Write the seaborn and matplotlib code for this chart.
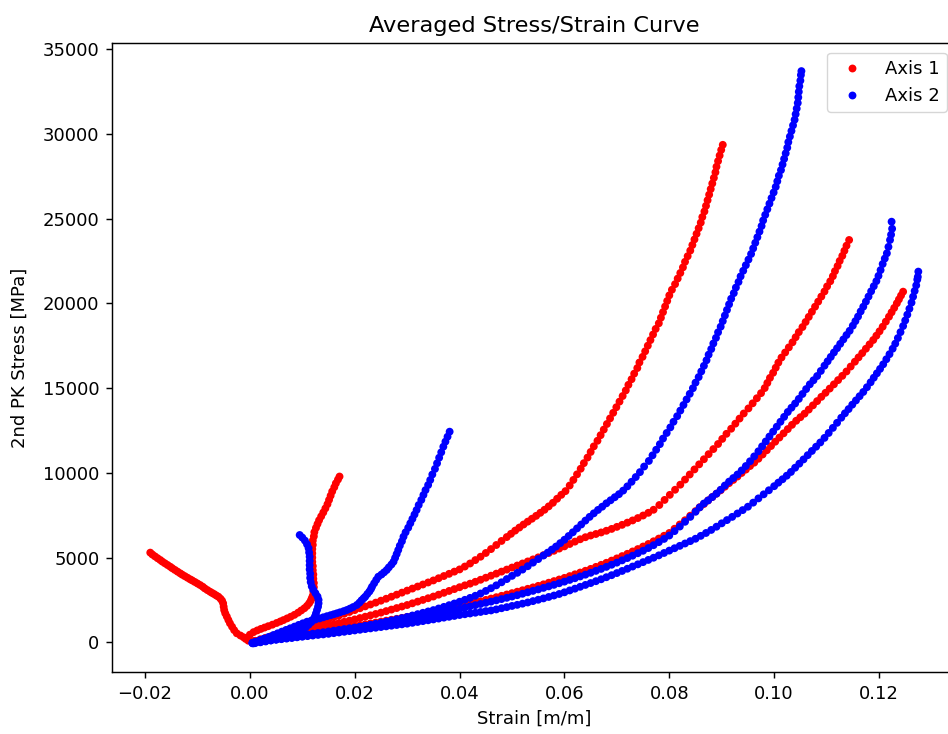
import numpy as np
import pandas as pd
import matplotlib
matplotlib.use("Agg")
import matplotlib.pyplot as plt
import seaborn as sns

# Averaged stress/strain samples, (strain [m/m], 2nd PK stress [MPa]) per test run.
# Axis 1 runs
axis1_run1 = [(-0.0003, 94), (-0.0008, 200), (-0.0012, 295), (-0.0018, 400), (-0.0025, 531), (-0.0030, 720),
              (-0.0034, 920), (-0.0038, 1120), (-0.0041, 1316), (-0.0044, 1520), (-0.0047, 1711), (-0.0049, 1900),
              (-0.0050, 2100), (-0.0051, 2300), (-0.0053, 2450), (-0.0056, 2570), (-0.0060, 2690), (-0.0064, 2760),
              (-0.0068, 2840), (-0.0072, 2910), (-0.0076, 2985), (-0.0081, 3080), (-0.0086, 3180), (-0.0090, 3280),
              (-0.0095, 3380), (-0.0100, 3470), (-0.0105, 3560), (-0.0110, 3650), (-0.0114, 3717), (-0.0119, 3810),
              (-0.0124, 3900), (-0.0129, 3990), (-0.0133, 4071), (-0.0138, 4170), (-0.0143, 4270), (-0.0148, 4370),
              (-0.0152, 4460), (-0.0157, 4560), (-0.0162, 4660), (-0.0167, 4760), (-0.0171, 4856), (-0.0176, 4960),
              (-0.0181, 5070), (-0.0186, 5180), (-0.0190, 5290)]

axis1_run2 = [(0.0000, 450), (0.0007, 600), (0.0014, 700), (0.0021, 790), (0.0028, 870), (0.0035, 950),
              (0.0043, 1040), (0.0051, 1140), (0.0058, 1230), (0.0064, 1310), (0.0071, 1410), (0.0078, 1510),
              (0.0085, 1620), (0.0092, 1750), (0.0098, 1880), (0.0104, 2010), (0.0109, 2150), (0.0113, 2300),
              (0.0116, 2450), (0.0118, 2600), (0.0120, 2750), (0.0121, 3000), (0.0122, 3250), (0.0122, 3500),
              (0.0121, 3750), (0.0121, 4000), (0.0120, 4250), (0.0120, 4500), (0.0119, 4750), (0.0119, 5000),
              (0.0119, 5250), (0.0119, 5500), (0.0120, 5750), (0.0120, 6000), (0.0122, 6250), (0.0123, 6500),
              (0.0126, 6750), (0.0129, 6980), (0.0132, 7200), (0.0136, 7430), (0.0140, 7660), (0.0144, 7900),
              (0.0148, 8150), (0.0151, 8400), (0.0154, 8650), (0.0157, 8900), (0.0161, 9150), (0.0164, 9380),
              (0.0168, 9600), (0.0171, 9780)]

axis1_run3 = [(0.0005, 40), (0.001, 90), (0.002, 180), (0.003, 265), (0.004, 355), (0.005, 445), (0.006, 535),
              (0.007, 625), (0.008, 715), (0.009, 805), (0.010, 900), (0.011, 990), (0.012, 1085), (0.013, 1180),
              (0.014, 1280), (0.015, 1380), (0.016, 1480), (0.017, 1580), (0.018, 1685), (0.019, 1790),
              (0.020, 1900), (0.021, 2010), (0.022, 2120), (0.023, 2230), (0.024, 2340), (0.025, 2455),
              (0.026, 2570), (0.027, 2690), (0.028, 2810), (0.029, 2930), (0.030, 3050), (0.031, 3170),
              (0.032, 3290), (0.033, 3410), (0.034, 3530), (0.035, 3650), (0.036, 3780), (0.037, 3910),
              (0.038, 4040), (0.039, 4170), (0.040, 4300), (0.041, 4470), (0.042, 4650), (0.043, 4850),
              (0.044, 5050), (0.045, 5270), (0.046, 5500), (0.047, 5740), (0.048, 5980), (0.0490, 6210),
              (0.0498, 6400), (0.0506, 6590), (0.0514, 6770), (0.0522, 6950), (0.0530, 7120), (0.0538, 7290),
              (0.0546, 7460), (0.0554, 7640), (0.0562, 7820), (0.0570, 8020), (0.0578, 8230), (0.0586, 8470),
              (0.0594, 8700), (0.0602, 8920), (0.0610, 9250), (0.0617, 9580), (0.0624, 9910), (0.0631, 10240),
              (0.0637, 10570), (0.0644, 10900), (0.0650, 11230), (0.0656, 11560), (0.0663, 11890), (0.0669, 12220),
              (0.0675, 12550), (0.0681, 12880), (0.0687, 13210), (0.0693, 13540), (0.0699, 13870), (0.0705, 14200),
              (0.0711, 14530), (0.0717, 14860), (0.0722, 15190), (0.0728, 15520), (0.0733, 15850), (0.0739, 16180),
              (0.0743, 16510), (0.0749, 16840), (0.0754, 17170), (0.0759, 17500), (0.0764, 17830), (0.0769, 18160),
              (0.0774, 18490), (0.0780, 18820), (0.0784, 19150), (0.0788, 19480), (0.0792, 19810), (0.0796, 20140),
              (0.0800, 20470), (0.0805, 20800), (0.0811, 21130), (0.0816, 21460), (0.0821, 21790), (0.0826, 22120),
              (0.0830, 22450), (0.0835, 22780), (0.0840, 23110), (0.0844, 23440), (0.0848, 23770), (0.0852, 24100),
              (0.0856, 24430), (0.0860, 24760), (0.0863, 25090), (0.0867, 25420), (0.0870, 25750), (0.0873, 26080),
              (0.0876, 26410), (0.0879, 26740), (0.0882, 27070), (0.0885, 27400), (0.0888, 27730), (0.0890, 28060),
              (0.0893, 28390), (0.0896, 28720), (0.0899, 29050), (0.0902, 29350)]

axis1_run4 = [(0.0005, 40), (0.001, 70), (0.002, 135), (0.003, 200), (0.004, 265), (0.005, 330), (0.006, 395),
              (0.007, 455), (0.008, 520), (0.009, 585), (0.010, 650), (0.011, 720), (0.012, 790), (0.013, 860),
              (0.014, 930), (0.015, 1000), (0.016, 1070), (0.017, 1140), (0.018, 1210), (0.019, 1280),
              (0.020, 1350), (0.021, 1430), (0.022, 1510), (0.023, 1590), (0.024, 1670), (0.025, 1750),
              (0.026, 1840), (0.027, 1930), (0.028, 2020), (0.029, 2110), (0.030, 2200), (0.031, 2300),
              (0.032, 2400), (0.033, 2500), (0.034, 2600), (0.035, 2700), (0.036, 2810), (0.037, 2920),
              (0.038, 3030), (0.039, 3140), (0.040, 3250), (0.041, 3360), (0.042, 3460), (0.043, 3570),
              (0.044, 3690), (0.045, 3810), (0.046, 3930), (0.047, 4050), (0.048, 4170), (0.049, 4290),
              (0.050, 4410), (0.051, 4530), (0.052, 4650), (0.053, 4770), (0.054, 4890), (0.055, 5010),
              (0.056, 5140), (0.057, 5270), (0.058, 5400), (0.059, 5530), (0.060, 5660), (0.061, 5800),
              (0.062, 5940), (0.063, 6080), (0.064, 6200), (0.065, 6300), (0.066, 6390), (0.067, 6480),
              (0.068, 6580), (0.069, 6690), (0.070, 6810), (0.071, 6930), (0.072, 7060), (0.073, 7190),
              (0.074, 7330), (0.075, 7480), (0.076, 7640), (0.077, 7820), (0.0781, 8100), (0.0791, 8400),
              (0.0801, 8700), (0.0811, 9000), (0.0821, 9300), (0.0830, 9600), (0.0839, 9900), (0.0848, 10200),
              (0.0857, 10500), (0.0866, 10800), (0.0875, 11100), (0.0884, 11400), (0.0893, 11700), (0.0901, 12000),
              (0.0909, 12300), (0.0918, 12600), (0.0926, 12900), (0.0934, 13200), (0.0942, 13500), (0.0951, 13800),
              (0.0959, 14100), (0.0967, 14400), (0.0975, 14700), (0.0982, 15000), (0.0987, 15300), (0.0992, 15600),
              (0.0998, 15900), (0.1003, 16200), (0.1008, 16500), (0.1014, 16800), (0.1021, 17100), (0.1028, 17400),
              (0.1035, 17700), (0.1041, 18000), (0.1047, 18300), (0.1054, 18600), (0.1060, 18900), (0.1066, 19200),
              (0.1072, 19500), (0.1078, 19800), (0.1084, 20100), (0.1090, 20400), (0.1096, 20700), (0.1101, 21000),
              (0.1107, 21300), (0.1112, 21600), (0.1116, 21900), (0.1121, 22200), (0.1125, 22500), (0.1130, 22800),
              (0.1134, 23100), (0.1138, 23400), (0.1143, 23736)]

axis1_run5 = [(0.0005, 50), (0.001, 70), (0.002, 115), (0.003, 160), (0.004, 205), (0.005, 250), (0.006, 295),
              (0.007, 340), (0.008, 390), (0.009, 435), (0.010, 480), (0.011, 530), (0.012, 575), (0.013, 625),
              (0.014, 670), (0.015, 720), (0.016, 765), (0.017, 815), (0.018, 860), (0.019, 910), (0.020, 960),
              (0.021, 1010), (0.022, 1060), (0.023, 1115), (0.024, 1165), (0.025, 1220), (0.026, 1275),
              (0.027, 1330), (0.028, 1385), (0.029, 1440), (0.030, 1500), (0.031, 1560), (0.032, 1620),
              (0.033, 1680), (0.034, 1740), (0.035, 1800), (0.036, 1865), (0.037, 1930), (0.038, 1995),
              (0.039, 2060), (0.040, 2130), (0.041, 2200), (0.042, 2270), (0.043, 2345), (0.044, 2420),
              (0.045, 2500), (0.046, 2580), (0.047, 2660), (0.048, 2740), (0.049, 2820), (0.050, 2900),
              (0.051, 2985), (0.052, 3070), (0.053, 3155), (0.054, 3240), (0.055, 3330), (0.056, 3420),
              (0.057, 3515), (0.058, 3610), (0.059, 3705), (0.060, 3800), (0.061, 3905), (0.062, 4010),
              (0.063, 4115), (0.064, 4220), (0.065, 4330), (0.066, 4450), (0.067, 4570), (0.068, 4690),
              (0.069, 4820), (0.070, 4950), (0.071, 5085), (0.072, 5220), (0.073, 5360), (0.074, 5500),
              (0.075, 5650), (0.076, 5800), (0.077, 5960), (0.078, 6120), (0.079, 6285), (0.080, 6450),
              (0.081, 6700), (0.082, 6950), (0.083, 7200), (0.084, 7470), (0.085, 7740), (0.0858, 7970),
              (0.0866, 8160), (0.0874, 8370), (0.0882, 8570), (0.0890, 8770), (0.0898, 8970), (0.0906, 9180),
              (0.0914, 9390), (0.0922, 9580), (0.0930, 9780), (0.0938, 9990), (0.0946, 10190), (0.0954, 10400),
              (0.0962, 10600), (0.0970, 10830), (0.0978, 11080), (0.0986, 11330), (0.0994, 11580), (0.1002, 11835),
              (0.1010, 12080), (0.1018, 12330), (0.1026, 12580), (0.1034, 12830), (0.1042, 13070), (0.1050, 13280),
              (0.1058, 13490), (0.1066, 13730), (0.1074, 13980), (0.1082, 14230), (0.1090, 14480), (0.1098, 14720),
              (0.1106, 14970), (0.1114, 15220), (0.1122, 15470), (0.1130, 15720), (0.1138, 15980), (0.1146, 16270),
              (0.1154, 16556), (0.1161, 16810), (0.1168, 17060), (0.1175, 17320), (0.1182, 17580), (0.1189, 17836),
              (0.1195, 18090), (0.1201, 18350), (0.1207, 18620), (0.1213, 18920), (0.1219, 19210), (0.1224, 19470),
              (0.1229, 19730), (0.1234, 20001), (0.1238, 20230), (0.1242, 20460), (0.1246, 20686)]

# Axis 2 runs
axis2_run1 = [(0.0010, -50), (0.0020, 0), (0.0030, 50), (0.0040, 110), (0.0050, 180), (0.0060, 260),
              (0.0070, 350), (0.0079, 440), (0.0087, 540), (0.0094, 650), (0.0101, 770), (0.0107, 900),
              (0.0112, 1040), (0.0117, 1190), (0.0121, 1350), (0.0124, 1520), (0.0126, 1700), (0.0128, 1900),
              (0.0130, 2100), (0.0131, 2300), (0.0131, 2500), (0.0129, 2700), (0.0125, 2900), (0.0121, 3100),
              (0.0118, 3300), (0.0116, 3550), (0.0115, 3800), (0.0115, 4050), (0.0114, 4300), (0.0114, 4550),
              (0.0114, 4800), (0.0114, 5050), (0.0113, 5300), (0.0112, 5550), (0.0109, 5780), (0.0105, 6000),
              (0.0100, 6180), (0.0095, 6330)]

axis2_run2 = [(0.0007, -60), (0.0014, 50), (0.0020, 136), (0.0027, 220), (0.0036, 320), (0.0045, 431),
              (0.0053, 530), (0.0061, 630), (0.0069, 730), (0.0077, 826), (0.0085, 925), (0.0093, 1025),
              (0.0101, 1120), (0.0109, 1215), (0.0117, 1280), (0.0125, 1345), (0.0133, 1410), (0.0140, 1475),
              (0.0147, 1540), (0.0154, 1600), (0.0160, 1655), (0.0166, 1711), (0.0172, 1770), (0.0179, 1840),
              (0.0185, 1906), (0.0191, 1990), (0.0197, 2080), (0.0204, 2201), (0.0209, 2340), (0.0213, 2480),
              (0.0217, 2600), (0.0220, 2690), (0.0224, 2850), (0.0228, 3000), (0.0231, 3150), (0.0233, 3280),
              (0.0237, 3480), (0.0241, 3680), (0.0245, 3870), (0.0251, 4000), (0.0256, 4130), (0.0261, 4266),
              (0.0265, 4420), (0.0270, 4590), (0.0274, 4755), (0.0277, 4980), (0.0280, 5210), (0.0283, 5446),
              (0.0286, 5700), (0.0290, 5960), (0.0293, 6230), (0.0297, 6490), (0.0302, 6760), (0.0306, 7021),
              (0.0310, 7280), (0.0314, 7540), (0.0318, 7806), (0.0322, 8100), (0.0327, 8400), (0.0331, 8691),
              (0.0335, 8980), (0.0340, 9280), (0.0344, 9576), (0.0348, 9900), (0.0353, 10230), (0.0357, 10561),
              (0.0361, 10890), (0.0365, 11210), (0.0369, 11540), (0.0373, 11840), (0.0377, 12130), (0.0381, 12426)]

axis2_run3 = [(0.0005, -40), (0.001, 20), (0.002, 55), (0.003, 95), (0.004, 130), (0.005, 170), (0.006, 205),
              (0.007, 245), (0.008, 280), (0.009, 320), (0.010, 360), (0.011, 400), (0.012, 445), (0.013, 490),
              (0.014, 535), (0.015, 580), (0.016, 630), (0.017, 685), (0.018, 740), (0.019, 795), (0.020, 850),
              (0.021, 910), (0.022, 970), (0.023, 1030), (0.024, 1090), (0.025, 1150), (0.026, 1220),
              (0.027, 1290), (0.028, 1360), (0.029, 1430), (0.030, 1500), (0.031, 1580), (0.032, 1660),
              (0.033, 1740), (0.034, 1820), (0.035, 1900), (0.036, 1995), (0.037, 2090), (0.038, 2190),
              (0.039, 2290), (0.040, 2395), (0.041, 2505), (0.042, 2620), (0.043, 2745), (0.044, 2880),
              (0.045, 3030), (0.046, 3190), (0.047, 3360), (0.048, 3540), (0.049, 3730), (0.050, 3920),
              (0.051, 4100), (0.052, 4290), (0.053, 4490), (0.054, 4700), (0.055, 4910), (0.056, 5120),
              (0.0568, 5290), (0.0576, 5470), (0.0584, 5650), (0.0592, 5850), (0.0600, 6050), (0.0608, 6270),
              (0.0616, 6490), (0.0624, 6720), (0.0632, 6950), (0.0640, 7180), (0.0648, 7400), (0.0656, 7610),
              (0.0664, 7810), (0.0672, 8000), (0.0680, 8200), (0.0688, 8380), (0.0696, 8560), (0.0704, 8740),
              (0.0712, 8950), (0.0720, 9200), (0.0728, 9470), (0.0736, 9750), (0.0744, 10040), (0.0752, 10370),
              (0.0761, 10700), (0.0768, 11030), (0.0775, 11360), (0.0782, 11690), (0.0788, 12020), (0.0795, 12350),
              (0.0802, 12680), (0.0808, 13010), (0.0815, 13340), (0.0821, 13670), (0.0827, 14000), (0.0833, 14330),
              (0.0839, 14660), (0.0845, 14990), (0.0850, 15320), (0.0856, 15650), (0.0861, 15980), (0.0866, 16310),
              (0.0871, 16640), (0.0875, 16970), (0.0880, 17300), (0.0884, 17630), (0.0889, 17960), (0.0893, 18290),
              (0.0898, 18620), (0.0902, 18950), (0.0906, 19280), (0.0910, 19610), (0.0914, 19940), (0.0918, 20270),
              (0.0923, 20600), (0.0927, 20930), (0.0932, 21260), (0.0936, 21590), (0.0941, 21920), (0.0946, 22250),
              (0.0951, 22580), (0.0956, 22910), (0.0960, 23240), (0.0964, 23570), (0.0968, 23900), (0.0972, 24230),
              (0.0976, 24560), (0.0979, 24890), (0.0983, 25220), (0.0987, 25550), (0.0991, 25880), (0.0995, 26210),
              (0.0999, 26540), (0.1003, 26870), (0.1006, 27200), (0.1009, 27530), (0.1013, 27860), (0.1016, 28190),
              (0.1019, 28520), (0.1022, 28850), (0.1025, 29180), (0.1027, 29510), (0.1030, 29840), (0.1033, 30170),
              (0.1036, 30500), (0.1039, 30830), (0.1041, 31160), (0.1043, 31490), (0.1045, 31820), (0.1046, 32150),
              (0.1047, 32480), (0.1048, 32810), (0.1050, 33140), (0.1051, 33470), (0.1052, 33700)]

axis2_run4 = [(0.0005, -30), (0.001, 10), (0.002, 55), (0.003, 110), (0.004, 155), (0.005, 200), (0.006, 245),
              (0.007, 290), (0.008, 330), (0.009, 375), (0.010, 420), (0.011, 465), (0.012, 510), (0.013, 550),
              (0.014, 595), (0.015, 640), (0.016, 685), (0.017, 730), (0.018, 780), (0.019, 825), (0.020, 870),
              (0.021, 915), (0.022, 960), (0.023, 1005), (0.024, 1050), (0.025, 1100), (0.026, 1150),
              (0.027, 1205), (0.028, 1260), (0.029, 1315), (0.030, 1370), (0.031, 1425), (0.032, 1480),
              (0.033, 1535), (0.034, 1590), (0.035, 1650), (0.036, 1715), (0.037, 1780), (0.038, 1845),
              (0.039, 1910), (0.040, 1980), (0.041, 2050), (0.042, 2120), (0.043, 2190), (0.044, 2260),
              (0.045, 2330), (0.046, 2400), (0.047, 2475), (0.048, 2550), (0.049, 2625), (0.050, 2700),
              (0.051, 2780), (0.052, 2865), (0.053, 2950), (0.054, 3035), (0.055, 3120), (0.056, 3210),
              (0.057, 3300), (0.058, 3390), (0.059, 3485), (0.060, 3580), (0.061, 3680), (0.062, 3780),
              (0.063, 3885), (0.064, 3990), (0.065, 4100), (0.066, 4215), (0.067, 4330), (0.068, 4450),
              (0.069, 4575), (0.070, 4700), (0.071, 4835), (0.072, 4970), (0.073, 5110), (0.074, 5255),
              (0.075, 5400), (0.076, 5560), (0.077, 5730), (0.078, 5910), (0.079, 6100), (0.080, 6300),
              (0.081, 6560), (0.082, 6830), (0.083, 7110), (0.084, 7400), (0.085, 7700), (0.0858, 7960),
              (0.0866, 8190), (0.0874, 8370), (0.0882, 8570), (0.0890, 8770), (0.0898, 9000), (0.0906, 9250),
              (0.0914, 9480), (0.0922, 9690), (0.0930, 9900), (0.0938, 10140), (0.0946, 10400), (0.0954, 10680),
              (0.0962, 10970), (0.0970, 11270), (0.0977, 11560), (0.0984, 11850), (0.0991, 12140), (0.0998, 12430),
              (0.1005, 12720), (0.1012, 13010), (0.1019, 13300), (0.1026, 13590), (0.1033, 13840), (0.1040, 14090),
              (0.1047, 14360), (0.1054, 14650), (0.1061, 14940), (0.1068, 15220), (0.1075, 15460), (0.1082, 15710),
              (0.1089, 16010), (0.1096, 16320), (0.1102, 16580), (0.1108, 16840), (0.1114, 17100), (0.1120, 17350),
              (0.1126, 17610), (0.1132, 17870), (0.1138, 18130), (0.1144, 18380), (0.1150, 18680), (0.1155, 18950),
              (0.1160, 19220), (0.1165, 19520), (0.1170, 19800), (0.1175, 20100), (0.1180, 20400), (0.1185, 20710),
              (0.1190, 21010), (0.1195, 21310), (0.1199, 21620), (0.1203, 21960), (0.1207, 22320), (0.1211, 22640),
              (0.1215, 22951), (0.1218, 23330), (0.1221, 23736), (0.1223, 24050), (0.1225, 24400), (0.1224, 24815)]

axis2_run5 = [(0.0005, -60), (0.001, -20), (0.002, 15), (0.003, 80), (0.004, 115), (0.005, 150), (0.006, 185),
              (0.007, 220), (0.008, 255), (0.009, 295), (0.010, 330), (0.011, 365), (0.012, 400), (0.013, 435),
              (0.014, 465), (0.015, 500), (0.016, 540), (0.017, 580), (0.018, 620), (0.019, 660), (0.020, 700),
              (0.021, 740), (0.022, 780), (0.023, 820), (0.024, 860), (0.025, 900), (0.026, 940), (0.027, 980),
              (0.028, 1020), (0.029, 1060), (0.030, 1100), (0.031, 1150), (0.032, 1200), (0.033, 1250),
              (0.034, 1300), (0.035, 1350), (0.036, 1400), (0.037, 1455), (0.038, 1505), (0.039, 1555),
              (0.040, 1610), (0.041, 1655), (0.042, 1700), (0.043, 1745), (0.044, 1790), (0.045, 1840),
              (0.046, 1880), (0.047, 1940), (0.048, 2010), (0.049, 2075), (0.050, 2145), (0.051, 2210),
              (0.052, 2280), (0.053, 2350), (0.054, 2430), (0.055, 2510), (0.056, 2590), (0.057, 2675),
              (0.058, 2760), (0.059, 2850), (0.060, 2950), (0.061, 3060), (0.062, 3165), (0.063, 3275),
              (0.064, 3385), (0.065, 3495), (0.066, 3605), (0.067, 3720), (0.068, 3840), (0.069, 3960),
              (0.070, 4085), (0.071, 4210), (0.072, 4340), (0.073, 4470), (0.074, 4600), (0.075, 4730),
              (0.076, 4860), (0.077, 4990), (0.078, 5130), (0.079, 5270), (0.080, 5410), (0.081, 5550),
              (0.082, 5690), (0.083, 5830), (0.084, 5970), (0.085, 6110), (0.086, 6280), (0.087, 6450),
              (0.088, 6630), (0.089, 6820), (0.090, 7020), (0.091, 7210), (0.092, 7400), (0.093, 7600),
              (0.094, 7800), (0.095, 8000), (0.096, 8240), (0.097, 8490), (0.098, 8730), (0.099, 8970),
              (0.100, 9210), (0.1008, 9420), (0.1016, 9620), (0.1024, 9830), (0.1032, 10050), (0.1040, 10300),
              (0.1048, 10540), (0.1056, 10790), (0.1064, 11040), (0.1072, 11290), (0.1080, 11540), (0.1088, 11790),
              (0.1096, 12060), (0.1104, 12350), (0.1112, 12650), (0.1120, 12950), (0.1128, 13250), (0.1135, 13511),
              (0.1142, 13760), (0.1149, 14020), (0.1156, 14270), (0.1163, 14520), (0.1170, 14770), (0.1177, 15050),
              (0.1184, 15340), (0.1190, 15610), (0.1196, 15870), (0.1202, 16130), (0.1208, 16400), (0.1214, 16700),
              (0.1220, 17000), (0.1226, 17320), (0.1231, 17620), (0.1236, 17950), (0.1241, 18300), (0.1246, 18660),
              (0.1250, 18990), (0.1254, 19330), (0.1258, 19680), (0.1262, 20040), (0.1265, 20391), (0.1268, 20730),
              (0.1271, 21060), (0.1273, 21400), (0.1274, 21560), (0.1275, 21870)]

series_labels = ["Axis 1", "Axis 2"]
series_colors = ["red", "blue"]
series_runs = [
    [axis1_run1, axis1_run2, axis1_run3, axis1_run4, axis1_run5],
    [axis2_run1, axis2_run2, axis2_run3, axis2_run4, axis2_run5],
]
strain_ticks = [-0.02, 0.00, 0.02, 0.04, 0.06, 0.08, 0.10, 0.12]
stress_ticks = [0, 5000, 10000, 15000, 20000, 25000, 30000, 35000]

# Long-form table: every run of a series shares the same hue
frames = []
for label, runs in zip(series_labels, series_runs):
    for run in runs:
        pts = np.asarray(run, dtype=float)
        frames.append(pd.DataFrame({"strain": pts[:, 0], "stress": pts[:, 1], "series": label}))
data = pd.concat(frames, ignore_index=True)

plt.rcParams.update({
    "font.family": ["DejaVu Sans"],
    "font.size": 13,
    "axes.titlesize": 16.2,
    "axes.labelsize": 13,
    "xtick.labelsize": 13,
    "ytick.labelsize": 13,
    "legend.fontsize": 13,
    "axes.linewidth": 1.04,
    "xtick.major.size": 4.55,
    "ytick.major.size": 4.55,
    "xtick.major.width": 1.04,
    "ytick.major.width": 1.04,
    "xtick.major.pad": 4.5,
    "ytick.major.pad": 4.5,
})

W, H = 948, 734
fig = plt.figure(figsize=(W / 100, H / 100), dpi=100)
# the plotting area runs past the right edge of the canvas
ax = fig.add_axes([112 / W, 1 - 672.3 / H, 844.6 / W, 629.6 / H])
ax.spines["right"].set_visible(False)

sns.scatterplot(
    data=data, x="strain", y="stress", hue="series",
    palette=dict(zip(series_labels, series_colors)),
    s=32, linewidth=0, edgecolor="none", ax=ax,
)

ax.set_xlim(-0.0263, 0.1348)
ax.set_ylim(-1770, 35376)
ax.set_xticks(strain_ticks)
ax.set_yticks(stress_ticks)
ax.set_title("Averaged Stress/Strain Curve", pad=7.8)
ax.set_xlabel("Strain [m/m]", labelpad=5)
ax.set_ylabel("2nd PK Stress [MPa]")
ax.yaxis.set_label_coords(-0.099, 0.5)

sns.move_legend(ax, "upper right", title=None, frameon=True, borderaxespad=0.55)

fig.savefig("out.png", dpi=100)
